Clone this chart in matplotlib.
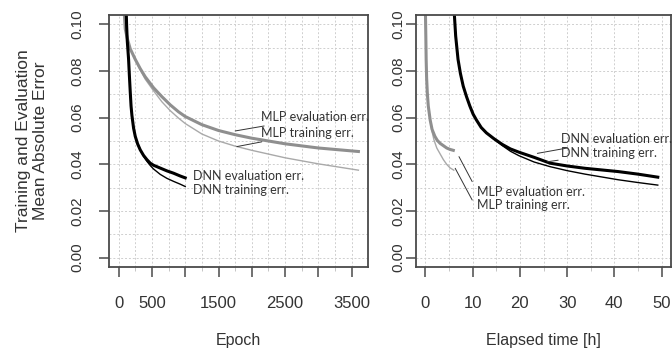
import numpy as np
import matplotlib.pyplot as plt

# ---- data ----
# left panel: error vs epoch
mlp_epoch = [85, 100, 130, 175, 250, 325, 400, 525, 650, 775, 900, 1000, 1250, 1500,
             1750, 2000, 2500, 3000, 3600]
mlp_eval_e = [0.105, 0.098, 0.094, 0.0895, 0.085, 0.081, 0.0775, 0.0728, 0.069, 0.0655,
              0.0625, 0.0605, 0.057, 0.0545, 0.0527, 0.0512, 0.0488, 0.047, 0.0455]
mlp_train_e = [0.105, 0.098, 0.094, 0.0895, 0.0848, 0.0805, 0.0765, 0.0715, 0.0668, 0.063,
               0.0598, 0.0575, 0.053, 0.050, 0.0478, 0.046, 0.0428, 0.0402, 0.0375]

dnn_epoch = [115, 120, 130, 140, 150, 162, 175, 187, 200, 225, 250, 285, 325, 375, 425,
             475, 525, 625, 725, 825, 925, 1000]
dnn_eval_e = [0.105, 0.100, 0.093, 0.089, 0.085, 0.078, 0.071, 0.065, 0.061, 0.0555,
              0.052, 0.0488, 0.0462, 0.0438, 0.042, 0.0405, 0.0396, 0.0384, 0.0372,
              0.0362, 0.035, 0.0342]
dnn_train_e = [0.105, 0.100, 0.093, 0.089, 0.085, 0.078, 0.071, 0.065, 0.061, 0.0555,
               0.052, 0.0488, 0.0462, 0.0435, 0.0413, 0.0395, 0.038, 0.0357, 0.034,
               0.0327, 0.0315, 0.0305]

# right panel: error vs elapsed time [h]
mlp_hours_eval = [0.0, 0.08, 0.15, 0.25, 0.4, 0.6, 1.0, 1.4, 2.0, 2.5, 3.1, 3.8, 4.5, 5.2, 5.9]
mlp_eval_t = [0.105, 0.095, 0.085, 0.077, 0.0705, 0.065, 0.059, 0.055, 0.052, 0.0503,
              0.049, 0.048, 0.047, 0.0464, 0.046]
mlp_hours_train = [0.0, 0.08, 0.15, 0.25, 0.4, 0.6, 1.0, 1.4, 1.8, 2.4, 3.1, 3.8, 4.5, 5.2, 6.0]
mlp_train_t = [0.105, 0.095, 0.085, 0.077, 0.0705, 0.065, 0.059, 0.054, 0.0505, 0.047,
               0.0445, 0.042, 0.040, 0.0385, 0.0375]

dnn_hours = [6.1, 6.4, 6.9, 7.4, 8.0, 8.7, 9.4, 10.1, 10.8, 11.8, 12.9, 14.5, 16.3, 18.0,
             19.8, 23.0, 26.4, 30.0, 33.8, 40.8, 45.0, 49.2]
dnn_eval_t = [0.105, 0.095, 0.085, 0.079, 0.0735, 0.069, 0.065, 0.0615, 0.059, 0.0558,
              0.0535, 0.051, 0.0485, 0.0466, 0.0452, 0.043, 0.0405, 0.0393, 0.0383,
              0.0369, 0.0358, 0.0345]
dnn_train_t = [0.105, 0.095, 0.085, 0.079, 0.0735, 0.069, 0.065, 0.0615, 0.059, 0.0558,
               0.0535, 0.0508, 0.048, 0.0456, 0.0437, 0.041, 0.039, 0.0373, 0.0358,
               0.0334, 0.0322, 0.0311]

yticks = [0.00, 0.02, 0.04, 0.06, 0.08, 0.10]
epoch_ticks = [0, 500, 1000, 1500, 2000, 2500, 3000, 3500]
epoch_labels = ['0', '500', '', '1500', '', '2500', '', '3500']
hour_ticks = [0, 10, 20, 30, 40, 50]

eval_gray = '#8f8f8f'
train_gray = '#a9a9a9'
spine_col = '#4a4a4a'
txt_col = '#333333'

plt.rcParams['font.family'] = ['Liberation Sans', 'DejaVu Sans']

fig = plt.figure(figsize=(6.72, 3.51), dpi=100)
ax1 = fig.add_axes([109 / 672, 1 - 267 / 351, 259 / 672, 252 / 351])
ax2 = fig.add_axes([416 / 672, 1 - 267 / 351, 255 / 672, 252 / 351])


def style_axis(ax, xticks, xlabels, minor_step, xlim, ypad):
    ax.set_ylim(-0.004, 0.104)
    ax.set_xlim(*xlim)
    ax.set_yticks(yticks)
    ax.set_yticklabels(['%.2f' % v for v in yticks], rotation=90, va='center',
                       fontsize=11, color=txt_col)
    ax.set_xticks(xticks)
    ax.set_xticklabels(xlabels, fontsize=12, color=txt_col)
    ax.set_xticks(np.arange(0, xlim[1], minor_step), minor=True)
    ax.set_yticks(np.arange(0, 0.105, 0.01), minor=True)
    ax.grid(True, which='both', linestyle=(0, (2, 2)), color='#cfcfcf', linewidth=0.7)
    ax.set_axisbelow(True)
    for s in ax.spines.values():
        s.set_color(spine_col)
        s.set_linewidth(1.3)
    ax.tick_params(axis='x', which='major', direction='out', length=7, width=1.1,
                   color=spine_col, pad=14)
    ax.tick_params(axis='y', which='major', direction='out', length=7, width=1.1,
                   color=spine_col, pad=ypad)
    ax.tick_params(axis='x', which='minor', direction='out', length=3, width=0.6,
                   color='#bbbbbb')
    ax.tick_params(axis='y', which='minor', length=0)


# left panel
ax1.plot(mlp_epoch, mlp_train_e, color=train_gray, lw=1.0)
ax1.plot(mlp_epoch, mlp_eval_e, color=eval_gray, lw=2.2)
ax1.plot(dnn_epoch, dnn_train_e, color='black', lw=1.0)
ax1.plot(dnn_epoch, dnn_eval_e, color='black', lw=2.2)
style_axis(ax1, epoch_ticks, epoch_labels, 250, (-144, 3744), 10.5)
ax1.set_xlabel('Epoch', fontsize=11.5, color=txt_col)
ax1.xaxis.label.set_va('center')
ax1.xaxis.set_label_coords(0.5, -0.29)

# right panel
ax2.plot(mlp_hours_train, mlp_train_t, color=train_gray, lw=1.0)
ax2.plot(mlp_hours_eval, mlp_eval_t, color=eval_gray, lw=2.2)
ax2.plot(dnn_hours, dnn_train_t, color='black', lw=1.0)
ax2.plot(dnn_hours, dnn_eval_t, color='black', lw=2.2)
style_axis(ax2, hour_ticks, [str(v) for v in hour_ticks], 5, (-2, 52), 1)
ax2.set_xlabel('Elapsed time [h]', fontsize=11.5, color=txt_col)
ax2.xaxis.label.set_va('center')
ax2.xaxis.set_label_coords(0.5, -0.29)

fig.text(32 / 672, 1 - 141 / 351, 'Training and Evaluation\nMean Absolute Error',
         rotation=90, ha='center', va='center', fontsize=12.5, color=txt_col,
         linespacing=1.2)

# annotations
note_font = dict(fontsize=9, color=txt_col, family=['Lato', 'DejaVu Sans'],
                 va='center', ha='left', clip_on=False)
arrow = dict(arrowstyle='-', color='#333333', lw=0.7, shrinkA=0, shrinkB=0)

ax1.annotate('MLP evaluation err.', xy=(1750, 0.0543), xytext=(2140, 0.0602),
             arrowprops=arrow, **note_font)
ax1.annotate('MLP training err.', xy=(1775, 0.0476), xytext=(2140, 0.0534),
             arrowprops=arrow, **note_font)
ax1.text(1110, 0.0352, 'DNN evaluation err.', **note_font)
ax1.text(1110, 0.0292, 'DNN training err.', **note_font)

ax2.annotate('DNN evaluation err.', xy=(23.7, 0.0447), xytext=(28.7, 0.0508),
             arrowprops=arrow, **note_font)
ax2.annotate('DNN training err.', xy=(25.8, 0.0411), xytext=(28.7, 0.0449),
             arrowprops=arrow, **note_font)
ax2.annotate('', xy=(7.1, 0.0433), xytext=(9.9, 0.0326), arrowprops=arrow)
ax2.annotate('', xy=(6.3, 0.0383), xytext=(9.9, 0.0247), arrowprops=arrow)
ax2.text(11.0, 0.0283, 'MLP evaluation err.', **note_font)
ax2.text(11.0, 0.0226, 'MLP training err.', **note_font)

fig.savefig('out.png', dpi=100)
